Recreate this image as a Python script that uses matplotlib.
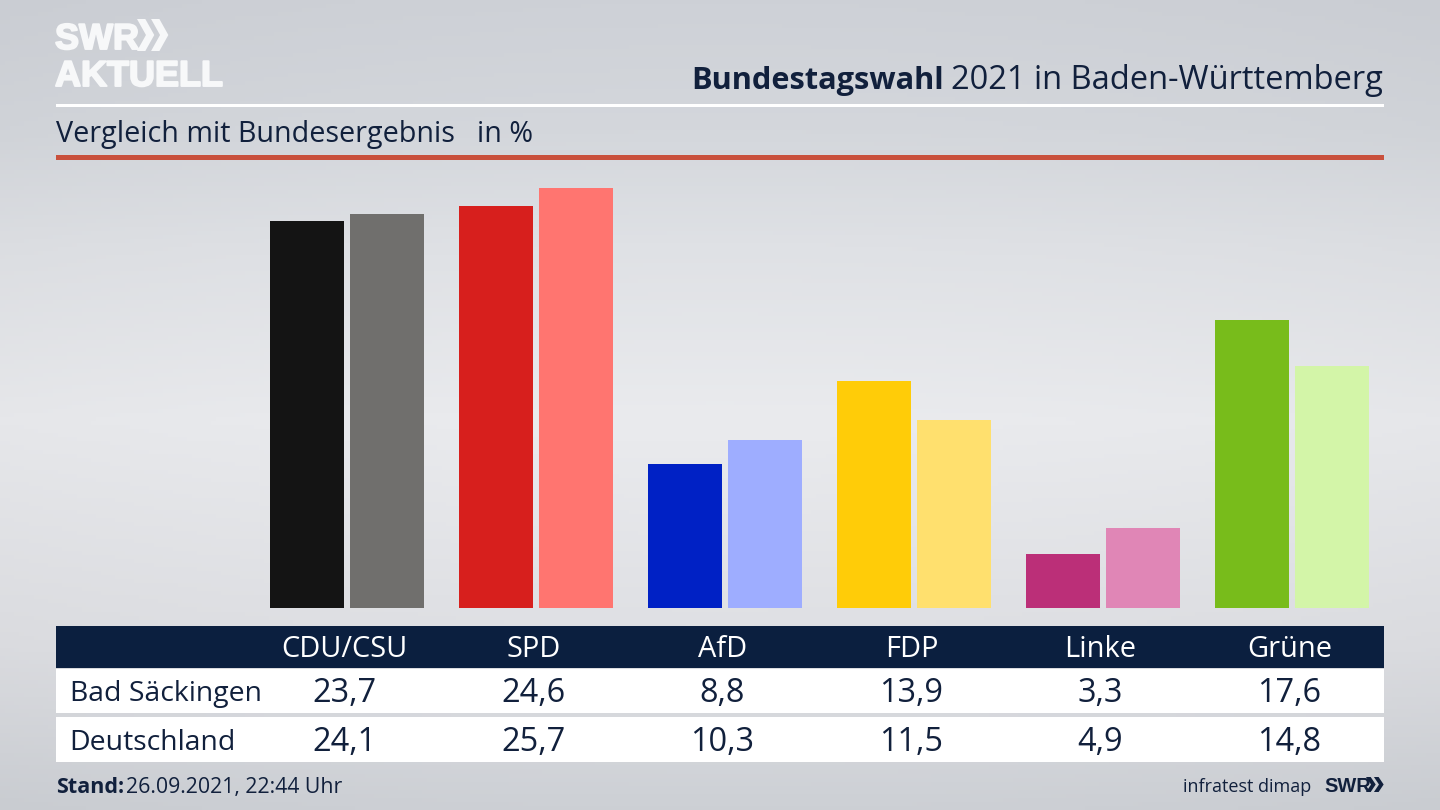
import matplotlib
matplotlib.use("Agg")
import matplotlib.pyplot as plt
import matplotlib.patheffects as pe
from matplotlib import font_manager
from matplotlib.colors import LinearSegmentedColormap
from matplotlib.patches import Polygon, Rectangle
import numpy as np

# ── Data ──────────────────────────────────────────────────────────────────────
parties = ["CDU/CSU", "SPD", "AfD", "FDP", "Linke", "Grüne"]
row_names = ["Bad Säckingen", "Deutschland"]
local_values = [23.7, 24.6, 8.8, 13.9, 3.3, 17.6]
national_values = [24.1, 25.7, 10.3, 11.5, 4.9, 14.8]

# ── Colors ────────────────────────────────────────────────────────────────────
local_colors = ["#141414", "#d71f1d", "#0021c5", "#ffcc08", "#bb2f78", "#78bc1b"]
national_colors = ["#706f6d", "#ff7570", "#9eadff", "#ffe06e", "#e086b6", "#d3f5a8"]
NAVY = "#0b1f3f"
TEXT = "#11203c"
RED_RULE = "#c9503c"
FONT = "Open Sans"
names = {f.name for f in font_manager.fontManager.ttflist}
LOGO = "Liberation Sans Narrow" if "Liberation Sans Narrow" in names else "Liberation Sans"
LOGO_SIZE = 42 if LOGO == "Liberation Sans Narrow" else 36

W, H = 1440, 810
PX = 0.72  # px -> pt at dpi 100

fig = plt.figure(figsize=(14.4, 8.1), dpi=100)

# ── Background gradient ───────────────────────────────────────────────────────
ax_bg = fig.add_axes([0, 0, 1, 1], zorder=0)
ax_bg.axis("off")
bg_cmap = LinearSegmentedColormap.from_list(
    "bg", [(0.0, "#ced1d7"), (0.16, "#d4d7dc"), (0.3, "#dfe1e5"), (0.52, "#eaebee"),
           (0.8, "#dedfe3"), (1.0, "#cdd0d5")])
yy = np.linspace(0, 1, 200)[:, None]
xx = np.linspace(-1, 1, 300)[None, :]
shade = yy + 0.0 * xx
edge = 0.015 * xx ** 2
rgb = bg_cmap(shade)[..., :3] - edge[..., None]
ax_bg.imshow(np.clip(rgb, 0, 1), aspect="auto", extent=[0, W, H, 0])

# ── Bars ──────────────────────────────────────────────────────────────────────
GROUP_PX, CENTER0, BASE, TOP, UNIT = 189.0, 347.0, 608, 170, 16.34
L, R = 56, 1384
ax = fig.add_axes([L / W, 1 - BASE / H, (R - L) / W, (BASE - TOP) / H], zorder=1)
ax.patch.set_alpha(0)
ax.axis("off")
ax.set_xlim((L - CENTER0) / GROUP_PX, (R - CENTER0) / GROUP_PX)
ax.set_ylim(0, (BASE - TOP) / UNIT)
x = np.arange(len(parties))
bw = 74 / GROUP_PX
off = 40 / GROUP_PX
ax.bar(x - off, local_values, width=bw, color=local_colors, linewidth=0)
ax.bar(x + off, national_values, width=bw, color=national_colors, linewidth=0)

# ── Everything else in pixel coordinates ──────────────────────────────────────
ov = fig.add_axes([0, 0, 1, 1], zorder=2)
ov.patch.set_alpha(0)
ov.axis("off")
ov.set_xlim(0, W)
ov.set_ylim(H, 0)


def txt(px, py, s, size, color=TEXT, ha="left", weight="normal", family=FONT):
    return ov.text(px, py, s, fontsize=size * PX, color=color, ha=ha, va="baseline",
                   fontweight=weight, family=family)


def band(x0, y0, x1, y1, color):
    ov.add_patch(Rectangle((x0, y0), x1 - x0, y1 - y0, facecolor=color, linewidth=0))


def chevrons(x0, y0, h, color, stretch=1.0):
    w = h * 0.28 * stretch
    t = h * 0.26 * stretch
    for k in (0, 1):
        dx = x0 + k * h * 0.44 * stretch
        ov.add_patch(Polygon([(dx, y0), (dx + t, y0), (dx + t + w, y0 + h / 2),
                              (dx + t, y0 + h), (dx, y0 + h), (dx + w, y0 + h / 2)],
                             closed=True, facecolor=color, linewidth=0))


# logo
LOGO_WHITE = "#f7f8f9"
for py, s in ((49, "SWR"), (86, "AKTUELL")):
    t = txt(55, py, s, LOGO_SIZE, color=LOGO_WHITE, weight="bold", family=LOGO)
    t.set_path_effects([pe.withStroke(linewidth=1.4, foreground=LOGO_WHITE)])
chevrons(137, 19, 32, LOGO_WHITE)

# header
txt(1383, 89, "2021 in Baden-Württemberg", 32.6, ha="right")
txt(944, 89, "Bundestagswahl", 30.8, ha="right", weight="bold")
band(56, 104, R, 107, "#ffffff")
txt(56, 142, "Vergleich mit Bundesergebnis", 28.7)
txt(477, 142, "in %", 28.7)
band(56, 155, R, 160, RED_RULE)

# table
band(56, 626, R, 668, NAVY)
band(56, 669, R, 713, "#ffffff")
band(56, 717, R, 762, "#ffffff")
col_px = CENTER0 - 2.6 + GROUP_PX * x
for cx, name, a, b in zip(col_px, parties, local_values, national_values):
    txt(cx, 657, name, 29, color="#ffffff", ha="center")
    txt(cx, 702, f"{a:.1f}".replace(".", ","), 32.5, ha="center")
    txt(cx, 751, f"{b:.1f}".replace(".", ","), 32.5, ha="center")
txt(70, 701, row_names[0], 28.4)
txt(69, 750, row_names[1], 28.4)

# footer
txt(56, 793, "Stand:", 21.5, weight="bold")
txt(126, 793, "26.09.2021, 22:44 Uhr", 21.3)
txt(1311, 792, "infratest dimap", 18, ha="right")
txt(1324, 792, "SWR", 20, weight="bold", family="Liberation Sans")
chevrons(1366, 777, 15, TEXT, stretch=1.2)

fig.savefig("out.png", dpi=100)
